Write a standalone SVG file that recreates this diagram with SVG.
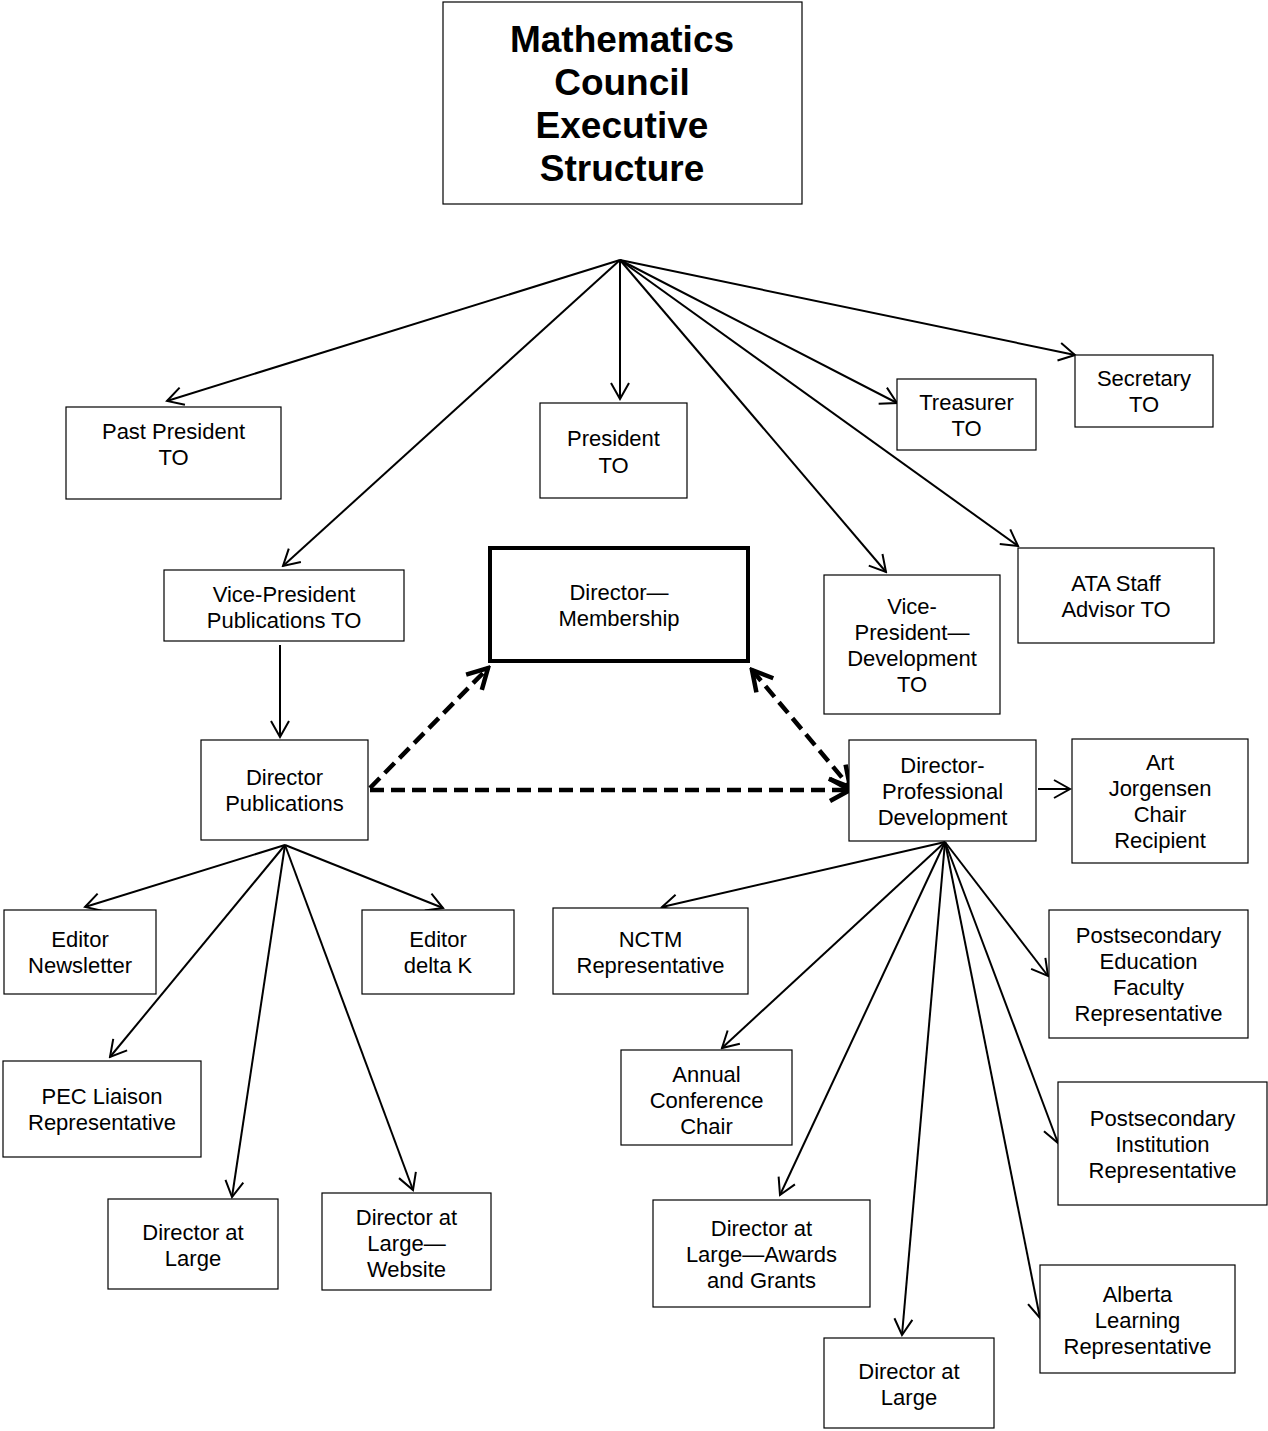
<svg xmlns="http://www.w3.org/2000/svg" width="1268" height="1431" viewBox="0 0 1268 1431">
<style>
.box{fill:#fff;stroke:#000;stroke-width:1.2}
.thick{fill:#fff;stroke:#000;stroke-width:4}
text{font-family:"Liberation Sans",Arial,sans-serif;font-size:22px;fill:#000;text-anchor:middle}
.title{font-size:37px;font-weight:bold}
.ln{stroke:#000;stroke-width:2;fill:none;marker-end:url(#ah)}
.dash{stroke:#000;stroke-width:4.5;fill:none;stroke-dasharray:14 7}
</style>
<defs>
<marker id="ah" viewBox="0 0 20 22" markerUnits="userSpaceOnUse" markerWidth="20" markerHeight="22" refX="18" refY="11" orient="auto">
<path d="M2,2 L18,11 L2,20" fill="none" stroke="#000" stroke-width="2"/>
</marker>
<marker id="ahd" viewBox="0 0 26 28" markerUnits="userSpaceOnUse" markerWidth="26" markerHeight="28" refX="23" refY="14" orient="auto-start-reverse">
<path d="M3,3 L23,14 L3,25" fill="none" stroke="#000" stroke-width="4.5"/>
</marker>
</defs>
<g id="connectors">
<line class="ln" x1="620" y1="260" x2="167" y2="401"/>
<line class="ln" x1="620" y1="260" x2="283" y2="566"/>
<line class="ln" x1="620" y1="260" x2="620" y2="399"/>
<line class="ln" x1="620" y1="260" x2="886" y2="572"/>
<line class="ln" x1="620" y1="260" x2="1018" y2="546"/>
<line class="ln" x1="620" y1="260" x2="897" y2="403"/>
<line class="ln" x1="620" y1="260" x2="1075" y2="355"/>
<line class="ln" x1="280" y1="645" x2="280" y2="737"/>
<line class="ln" x1="1038" y1="789" x2="1070" y2="789"/>
<line class="dash" x1="370" y1="788" x2="488" y2="668" marker-end="url(#ahd)"/>
<line class="dash" x1="370" y1="790" x2="850" y2="790" marker-end="url(#ahd)"/>
<line class="dash" x1="752" y1="670" x2="850" y2="787" marker-start="url(#ahd)" marker-end="url(#ahd)"/>
<line class="ln" x1="285" y1="845" x2="85" y2="907"/>
<line class="ln" x1="285" y1="845" x2="443" y2="908"/>
<line class="ln" x1="285" y1="845" x2="110" y2="1057"/>
<line class="ln" x1="285" y1="845" x2="232" y2="1197"/>
<line class="ln" x1="285" y1="845" x2="413" y2="1190"/>
<line class="ln" x1="945" y1="842" x2="662" y2="907"/>
<line class="ln" x1="945" y1="842" x2="722" y2="1048"/>
<line class="ln" x1="945" y1="842" x2="780" y2="1195"/>
<line class="ln" x1="945" y1="842" x2="902" y2="1335"/>
<line class="ln" x1="945" y1="842" x2="1048" y2="976"/>
<line class="ln" x1="945" y1="842" x2="1058" y2="1143"/>
<line class="ln" x1="945" y1="842" x2="1040" y2="1318"/>
</g>
<g id="title"><rect class="box" x="443" y="2" width="359" height="202"/>
<text class="title"><tspan x="622" y="52">Mathematics</tspan><tspan x="622" y="95">Council</tspan><tspan x="622" y="138">Executive</tspan><tspan x="622" y="181">Structure</tspan></text></g>
<g id="past-president"><rect class="box" x="66" y="407" width="215" height="92"/>
<text><tspan x="173.5" y="439">Past President</tspan><tspan x="173.5" y="465">TO</tspan></text></g>
<g id="president"><rect class="box" x="540" y="403" width="147" height="95"/>
<text><tspan x="613.5" y="446">President</tspan><tspan x="613.5" y="473">TO</tspan></text></g>
<g id="treasurer"><rect class="box" x="897" y="379" width="139" height="71"/>
<text><tspan x="966.5" y="410">Treasurer</tspan><tspan x="966.5" y="436">TO</tspan></text></g>
<g id="secretary"><rect class="box" x="1075" y="355" width="138" height="72"/>
<text><tspan x="1144" y="386">Secretary</tspan><tspan x="1144" y="412">TO</tspan></text></g>
<g id="vp-publications"><rect class="box" x="164" y="570" width="240" height="71"/>
<text><tspan x="284" y="602">Vice-President</tspan><tspan x="284" y="628">Publications TO</tspan></text></g>
<g id="director-membership"><rect class="thick" x="490" y="548" width="258" height="113"/>
<text><tspan x="619" y="600">Director—</tspan><tspan x="619" y="626">Membership</tspan></text></g>
<g id="vp-development"><rect class="box" x="824" y="575" width="176" height="139"/>
<text><tspan x="912" y="614">Vice-</tspan><tspan x="912" y="640">President—</tspan><tspan x="912" y="666">Development</tspan><tspan x="912" y="692">TO</tspan></text></g>
<g id="ata-staff-advisor"><rect class="box" x="1018" y="548" width="196" height="95"/>
<text><tspan x="1116" y="591">ATA Staff</tspan><tspan x="1116" y="617">Advisor TO</tspan></text></g>
<g id="director-publications"><rect class="box" x="201" y="740" width="167" height="100"/>
<text><tspan x="284.5" y="785">Director</tspan><tspan x="284.5" y="811">Publications</tspan></text></g>
<g id="director-pd"><rect class="box" x="849" y="740" width="187" height="101"/>
<text><tspan x="942.5" y="773">Director-</tspan><tspan x="942.5" y="799">Professional</tspan><tspan x="942.5" y="825">Development</tspan></text></g>
<g id="art-jorgensen"><rect class="box" x="1072" y="739" width="176" height="124"/>
<text><tspan x="1160" y="770">Art</tspan><tspan x="1160" y="796">Jorgensen</tspan><tspan x="1160" y="822">Chair</tspan><tspan x="1160" y="848">Recipient</tspan></text></g>
<g id="editor-newsletter"><rect class="box" x="4" y="910" width="152" height="84"/>
<text><tspan x="80" y="947">Editor</tspan><tspan x="80" y="973">Newsletter</tspan></text></g>
<g id="editor-deltak"><rect class="box" x="362" y="910" width="152" height="84"/>
<text><tspan x="438" y="947">Editor</tspan><tspan x="438" y="973">delta K</tspan></text></g>
<g id="pec-liaison"><rect class="box" x="3" y="1061" width="198" height="96"/>
<text><tspan x="102" y="1104">PEC Liaison</tspan><tspan x="102" y="1130">Representative</tspan></text></g>
<g id="director-at-large-1"><rect class="box" x="108" y="1199" width="170" height="90"/>
<text><tspan x="193" y="1240">Director at</tspan><tspan x="193" y="1266">Large</tspan></text></g>
<g id="director-website"><rect class="box" x="322" y="1193" width="169" height="97"/>
<text><tspan x="406.5" y="1225">Director at</tspan><tspan x="406.5" y="1251">Large—</tspan><tspan x="406.5" y="1277">Website</tspan></text></g>
<g id="nctm"><rect class="box" x="553" y="908" width="195" height="86"/>
<text><tspan x="650.5" y="947">NCTM</tspan><tspan x="650.5" y="973">Representative</tspan></text></g>
<g id="annual-conference"><rect class="box" x="621" y="1050" width="171" height="95"/>
<text><tspan x="706.5" y="1082">Annual</tspan><tspan x="706.5" y="1108">Conference</tspan><tspan x="706.5" y="1134">Chair</tspan></text></g>
<g id="awards-grants"><rect class="box" x="653" y="1200" width="217" height="107"/>
<text><tspan x="761.5" y="1236">Director at</tspan><tspan x="761.5" y="1262">Large—Awards</tspan><tspan x="761.5" y="1288">and Grants</tspan></text></g>
<g id="director-at-large-2"><rect class="box" x="824" y="1338" width="170" height="90"/>
<text><tspan x="909" y="1379">Director at</tspan><tspan x="909" y="1405">Large</tspan></text></g>
<g id="postsec-faculty"><rect class="box" x="1049" y="910" width="199" height="128"/>
<text><tspan x="1148.5" y="943">Postsecondary</tspan><tspan x="1148.5" y="969">Education</tspan><tspan x="1148.5" y="995">Faculty</tspan><tspan x="1148.5" y="1021">Representative</tspan></text></g>
<g id="postsec-institution"><rect class="box" x="1058" y="1082" width="209" height="123"/>
<text><tspan x="1162.5" y="1126">Postsecondary</tspan><tspan x="1162.5" y="1152">Institution</tspan><tspan x="1162.5" y="1178">Representative</tspan></text></g>
<g id="alberta-learning"><rect class="box" x="1040" y="1265" width="195" height="108"/>
<text><tspan x="1137.5" y="1302">Alberta</tspan><tspan x="1137.5" y="1328">Learning</tspan><tspan x="1137.5" y="1354">Representative</tspan></text></g>
</svg>
